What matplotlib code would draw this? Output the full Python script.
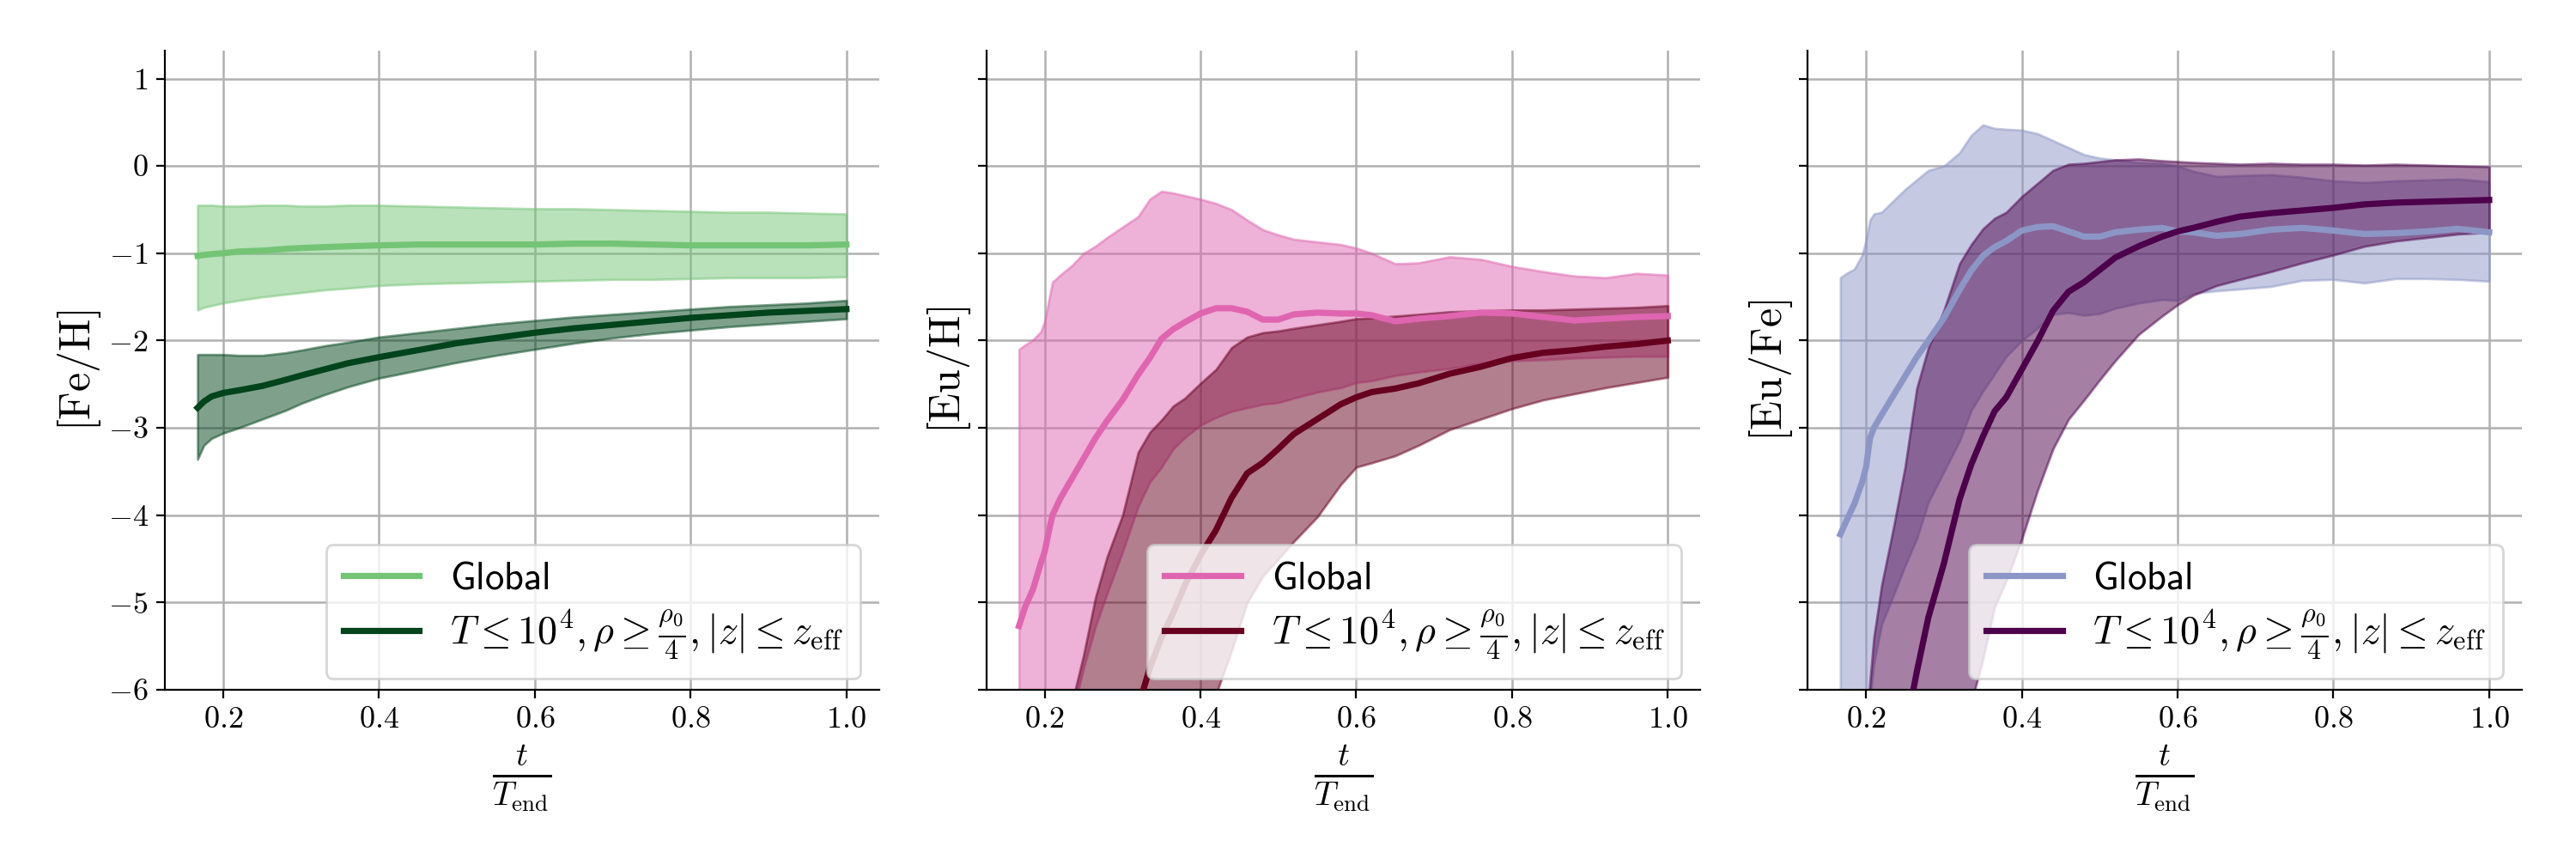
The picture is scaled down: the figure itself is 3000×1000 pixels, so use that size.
import numpy as np
import matplotlib
matplotlib.use("Agg")
import matplotlib.pyplot as plt
from matplotlib.ticker import FuncFormatter

plt.rcParams["mathtext.fontset"] = "cm"
plt.rcParams["font.family"] = "serif"
plt.rcParams["font.serif"] = ["cmr10", "DejaVu Serif"]
plt.rcParams["axes.unicode_minus"] = False

LOW = -9.0  # below the visible range, clipped by the axes

# ---- [Fe/H] ----
t_fe = [0.167, 0.175, 0.185, 0.2, 0.22, 0.25, 0.28, 0.3, 0.33, 0.36, 0.4, 0.45,
        0.5, 0.55, 0.6, 0.65, 0.7, 0.75, 0.8, 0.85, 0.9, 0.95, 1.0]
fe_glob = [-1.03, -1.02, -1.01, -1.0, -0.98, -0.97, -0.95, -0.94, -0.93, -0.92, -0.91, -0.90,
           -0.90, -0.90, -0.90, -0.89, -0.89, -0.90, -0.91, -0.91, -0.91, -0.91, -0.90]
fe_glob_hi = [-0.45, -0.45, -0.45, -0.46, -0.46, -0.45, -0.45, -0.46, -0.46, -0.45, -0.45, -0.46,
              -0.47, -0.48, -0.49, -0.49, -0.50, -0.51, -0.52, -0.53, -0.53, -0.54, -0.55]
fe_glob_lo = [-1.65, -1.62, -1.60, -1.57, -1.54, -1.50, -1.47, -1.45, -1.42, -1.40, -1.37, -1.35,
              -1.34, -1.33, -1.32, -1.31, -1.30, -1.30, -1.29, -1.28, -1.28, -1.28, -1.27]
fe_cut = [-2.77, -2.70, -2.64, -2.60, -2.57, -2.52, -2.45, -2.40, -2.33, -2.26, -2.19, -2.11,
          -2.03, -1.97, -1.91, -1.86, -1.82, -1.78, -1.74, -1.71, -1.68, -1.66, -1.64]
fe_cut_hi = [-2.16, -2.16, -2.16, -2.16, -2.17, -2.17, -2.14, -2.11, -2.06, -2.02, -1.96, -1.91,
             -1.86, -1.81, -1.77, -1.73, -1.70, -1.67, -1.64, -1.61, -1.59, -1.57, -1.54]
fe_cut_lo = [-3.36, -3.20, -3.12, -3.06, -3.00, -2.90, -2.80, -2.72, -2.62, -2.53, -2.43, -2.34,
             -2.25, -2.17, -2.10, -2.03, -1.97, -1.92, -1.88, -1.84, -1.81, -1.78, -1.75]

# ---- [Eu/H] and [Eu/Fe] share the same time samples ----
t_eu = [0.167, 0.175, 0.185, 0.195, 0.2, 0.205, 0.21, 0.22, 0.235, 0.25, 0.265, 0.28, 0.3,
        0.32, 0.335, 0.35, 0.365, 0.38, 0.4, 0.42, 0.44, 0.46, 0.48, 0.5, 0.52, 0.55, 0.58,
        0.6, 0.62, 0.65, 0.68, 0.72, 0.76, 0.8, 0.84, 0.88, 0.92, 0.96, 1.0]

euh_glob = [-5.27, -5.05, -4.85, -4.55, -4.42, -4.20, -4.00, -3.81, -3.58, -3.35, -3.12, -2.92, -2.68,
            -2.39, -2.20, -1.98, -1.87, -1.79, -1.69, -1.63, -1.63, -1.67, -1.76, -1.76, -1.70, -1.68, -1.69,
            -1.69, -1.71, -1.78, -1.75, -1.72, -1.68, -1.69, -1.73, -1.77, -1.75, -1.73, -1.72]
euh_glob_hi = [-2.10, -2.05, -1.99, -1.90, -1.78, -1.55, -1.33, -1.25, -1.14, -1.00, -0.92, -0.82, -0.70,
               -0.58, -0.38, -0.29, -0.31, -0.34, -0.38, -0.43, -0.50, -0.62, -0.73, -0.79, -0.84, -0.87, -0.90,
               -0.94, -1.00, -1.12, -1.11, -1.04, -1.07, -1.15, -1.21, -1.26, -1.28, -1.23, -1.25]
euh_glob_lo = [LOW, LOW, LOW, LOW, LOW, LOW, LOW, LOW, -6.30, -5.75, -5.28, -4.90, -4.42,
               -3.90, -3.62, -3.45, -3.24, -3.11, -2.97, -2.88, -2.81, -2.77, -2.73, -2.71, -2.66, -2.59, -2.54,
               -2.48, -2.46, -2.40, -2.36, -2.32, -2.26, -2.23, -2.22, -2.20, -2.19, -2.18, -2.18]
euh_cut = [np.nan] * 13 + [-6.20, -5.75, -5.40, -5.12, -4.80, -4.46, -4.17, -3.80, -3.52, -3.40, -3.24, -3.07,
                           -2.90, -2.73, -2.65, -2.59, -2.55, -2.49, -2.38, -2.30, -2.20, -2.14, -2.11, -2.07,
                           -2.04, -2.00]
euh_cut_hi = [LOW, LOW, LOW, LOW, LOW, LOW, LOW, LOW, -6.15, -5.60, -4.95, -4.48, -4.00,
              -3.28, -3.05, -2.91, -2.75, -2.66, -2.49, -2.33, -2.08, -1.96, -1.91, -1.89, -1.86, -1.82, -1.78,
              -1.75, -1.74, -1.72, -1.70, -1.67, -1.66, -1.65, -1.65, -1.64, -1.63, -1.62, -1.60]
euh_cut_lo = [LOW] * 19 + [-6.05, -5.55, -5.00, -4.70, -4.50, -4.30, -4.02, -3.65,
                           -3.45, -3.40, -3.32, -3.20, -3.02, -2.90, -2.78, -2.68, -2.61, -2.54, -2.48, -2.42]

eufe_glob = [-4.22, -4.06, -3.87, -3.62, -3.45, -3.12, -3.00, -2.85, -2.63, -2.41, -2.19, -2.00, -1.74,
             -1.42, -1.20, -1.03, -0.93, -0.86, -0.74, -0.70, -0.69, -0.75, -0.81, -0.81, -0.76, -0.73, -0.71,
             -0.75, -0.76, -0.80, -0.78, -0.73, -0.71, -0.74, -0.78, -0.77, -0.75, -0.72, -0.76]
eufe_glob_hi = [-1.28, -1.23, -1.18, -1.02, -0.85, -0.62, -0.55, -0.53, -0.40, -0.27, -0.16, -0.05, 0.00,
                0.15, 0.35, 0.47, 0.43, 0.42, 0.41, 0.37, 0.29, 0.21, 0.13, 0.09, 0.07, 0.04, 0.03,
                0.00, -0.06, -0.12, -0.11, -0.10, -0.13, -0.17, -0.19, -0.17, -0.16, -0.15, -0.18]
eufe_glob_lo = [LOW, LOW, LOW, LOW, LOW, -6.10, -5.70, -5.25, -4.92, -4.58, -4.27, -3.85, -3.50,
                -3.15, -2.80, -2.58, -2.38, -2.18, -2.00, -1.86, -1.70, -1.68, -1.71, -1.69, -1.63, -1.57, -1.53,
                -1.54, -1.46, -1.43, -1.41, -1.38, -1.31, -1.30, -1.34, -1.29, -1.29, -1.30, -1.32]
eufe_cut = [np.nan] * 9 + [-6.50, -5.80, -5.17, -4.55,
                           -3.82, -3.42, -3.10, -2.81, -2.65, -2.33, -2.01, -1.66, -1.44, -1.33, -1.19, -1.05, -0.92, -0.81,
                           -0.75, -0.71, -0.64, -0.58, -0.54, -0.51, -0.48, -0.44, -0.42, -0.41, -0.40, -0.39]
eufe_cut_hi = [LOW, LOW, LOW, LOW, -6.50, -5.90, -5.40, -4.80, -4.15, -3.45, -2.55, -2.08, -1.65,
               -1.12, -0.90, -0.72, -0.60, -0.53, -0.35, -0.20, -0.05, 0.02, 0.03, 0.05, 0.07, 0.08, 0.06,
               0.05, 0.04, 0.03, 0.02, 0.03, 0.02, 0.02, 0.01, 0.02, 0.01, 0.00, -0.01]
eufe_cut_lo = [LOW] * 14 + [-6.15, -5.65, -5.05, -4.75, -4.27, -3.72, -3.24, -2.90, -2.68, -2.45, -2.23, -1.93, -1.72,
                            -1.59, -1.48, -1.37, -1.30, -1.21, -1.11, -1.02, -0.92, -0.86, -0.82, -0.78, -0.76]

panels = [
    (t_fe, fe_glob, fe_glob_lo, fe_glob_hi, fe_cut, fe_cut_lo, fe_cut_hi,
     "#74c476", "#00441b", r"$[\mathrm{Fe/H}]$"),
    (t_eu, euh_glob, euh_glob_lo, euh_glob_hi, euh_cut, euh_cut_lo, euh_cut_hi,
     "#df65b0", "#67001f", r"$[\mathrm{Eu/H}]$"),
    (t_eu, eufe_glob, eufe_glob_lo, eufe_glob_hi, eufe_cut, eufe_cut_lo, eufe_cut_hi,
     "#8c96c6", "#4d004b", r"$[\mathrm{Eu/Fe}]$"),
]

cut_label = r"$T \leq 10^4, \rho \geq \frac{\rho_0}{4}, |z| \leq z_{\mathrm{eff}}$"

fig, axes = plt.subplots(1, 3, figsize=(15, 5), dpi=200, sharey=True)
fig.subplots_adjust(left=0.064, right=0.979, bottom=0.197, top=0.941, wspace=0.15)

for ax, (t, g, g_lo, g_hi, c, c_lo, c_hi, col_g, col_c, ylab) in zip(axes, panels):
    ax.fill_between(t, g_lo, g_hi, color=col_g, alpha=0.5, zorder=2)
    ax.fill_between(t, c_lo, c_hi, color=col_c, alpha=0.5, zorder=2)
    ax.plot(t, g, color=col_g, lw=2.6, label=r"$\mathsf{Global}$", zorder=3)
    ax.plot(t, c, color=col_c, lw=2.6, label=cut_label, zorder=3)

    ax.set_xlim(0.125, 1.042)
    ax.set_ylim(-6, 1.32)
    ax.set_xticks([0.2, 0.4, 0.6, 0.8, 1.0])
    ax.set_yticks(range(-6, 2))
    ax.xaxis.set_major_formatter(FuncFormatter(lambda v, p: f"${v:.1f}$"))
    ax.yaxis.set_major_formatter(FuncFormatter(lambda v, p: f"${v:g}$"))
    ax.tick_params(labelsize=13)
    ax.grid(True, color="#b0b0b0", lw=0.9, zorder=0)
    ax.set_axisbelow(True)
    ax.spines[["top", "right"]].set_visible(False)

    ax.set_xlabel(r"$\frac{t}{T_{\mathrm{end}}}$", fontsize=20)
    ax.set_ylabel(ylab, fontsize=18, labelpad=2)
    leg = ax.legend(loc="lower right", bbox_to_anchor=(1.0, -0.013), fontsize=16,
                    labelspacing=0.3, borderpad=0.45)
    leg.get_texts()[1].set_fontsize(16.6)

fig.savefig("out.png")
